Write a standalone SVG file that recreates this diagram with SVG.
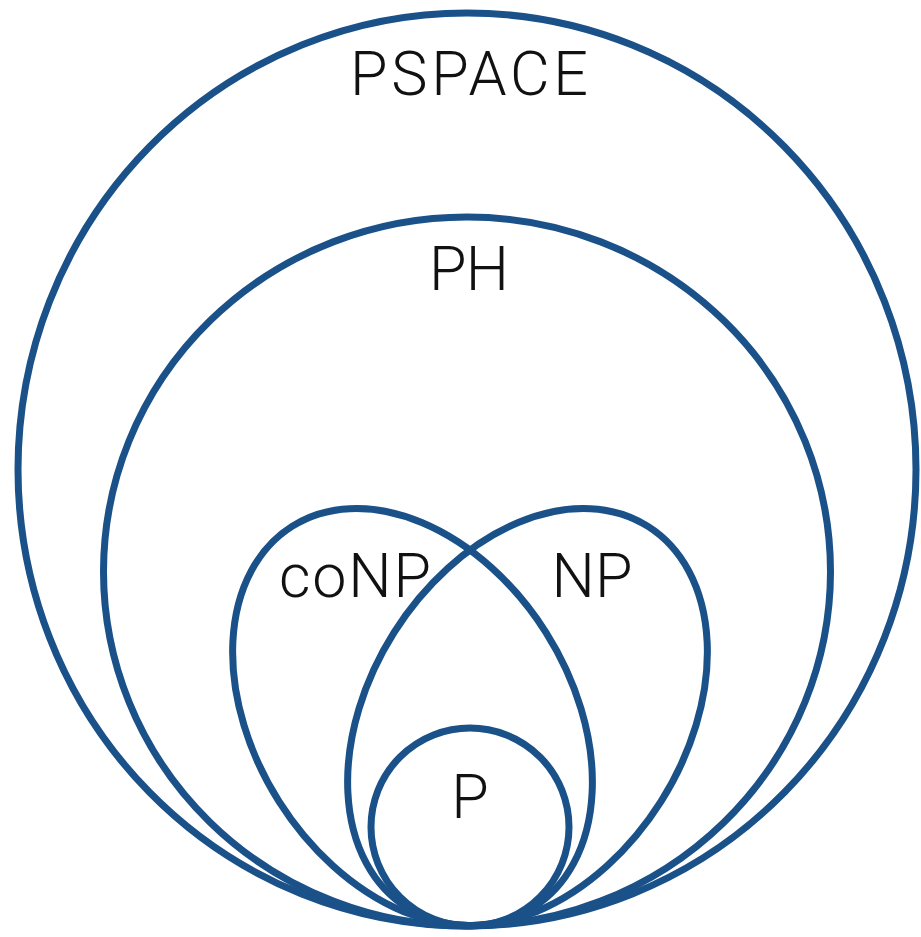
<svg xmlns="http://www.w3.org/2000/svg" width="921" height="937" viewBox="0 0 921 937">
  <style>
    .set { fill: none; stroke: #1a5189; stroke-width: 7; }
    .lbl { font-family: Roboto, "Liberation Sans", sans-serif; font-weight: 300; font-size: 61px; fill: #111; text-anchor: middle; }
  </style>
  <rect width="921" height="937" fill="#ffffff"/>
  <g id="PSPACE">
    <ellipse class="set" cx="467" cy="469.5" rx="449" ry="456.5"/>
    <text class="lbl" x="469" y="95" textLength="238" lengthAdjust="spacing">PSPACE</text>
  </g>
  <g id="PH">
    <ellipse class="set" cx="467" cy="571.5" rx="363.5" ry="354.5"/>
    <text class="lbl" x="469" y="290" textLength="80" lengthAdjust="spacing">PH</text>
  </g>
  <g id="coNP">
    <ellipse class="set" cx="412.5" cy="717" rx="225.5" ry="158" transform="rotate(57.7 412.5 717)"/>
    <text class="lbl" x="355" y="597" textLength="152" lengthAdjust="spacing">coNP</text>
  </g>
  <g id="NP">
    <ellipse class="set" cx="527.5" cy="717" rx="225.5" ry="158" transform="rotate(-57.7 527.5 717)"/>
    <text class="lbl" x="592" y="597">NP</text>
  </g>
  <g id="P">
    <circle class="set" cx="470" cy="827" r="99"/>
    <text class="lbl" x="470" y="818">P</text>
  </g>
</svg>
